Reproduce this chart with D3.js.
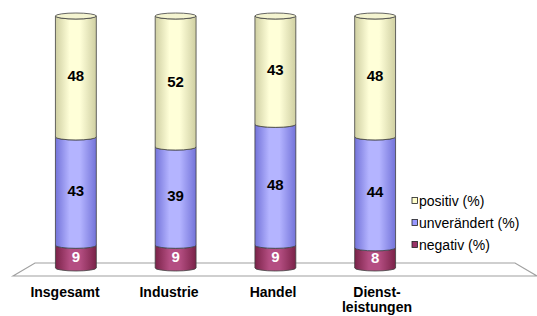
<!DOCTYPE html>
<html>
<head>
<meta charset="utf-8">
<script src="https://cdn.jsdelivr.net/npm/d3@7"></script>
<style>
  body { margin: 0; background: #fff; }
  svg { display: block; font-family: "Liberation Sans", Arial, sans-serif; }
</style>
</head>
<body>
<div id="chart"></div>
<script>
// data
const categories = ['Insgesamt', 'Industrie', 'Handel', 'Dienst-\nleistungen'];
const negativ = [9, 9, 9, 8];
const unveraendert = [43, 39, 48, 44];
const positiv = [48, 52, 43, 48];
const seriesNames = ['positiv (%)', 'unverändert (%)', 'negativ (%)'];

const W = 537, H = 316;
const svg = d3.select('#chart').append('svg').attr('width', W).attr('height', H);

const x = d3.scaleBand().domain(categories).range([26, 425]).paddingInner(0.59).paddingOuter(0.295);
// labels sit on the front edge of the 3D floor, so they spread a bit wider
const xLabel = d3.scalePoint().domain(categories).range([65, 377]);
const y = d3.scaleLinear().domain([0, 100]).range([268, 16]);
const ry = 3;

// colours per series
const styles = {
  negativ: { edge: '#7a2248', mid: '#b44e82', text: '#fff', key: '#993366' },
  unveraendert: { edge: '#7373d9', mid: '#b4b4ff', text: '#000', key: '#9999ff' },
  positiv: { edge: '#cfcfa2', mid: '#ffffd8', text: '#000', key: '#ffffcc' }
};

const defs = svg.append('defs');
Object.entries(styles).forEach(([k, s]) => {
  const g = defs.append('linearGradient').attr('id', 'g_' + k).attr('x1', 0).attr('x2', 1).attr('y1', 0).attr('y2', 0);
  g.append('stop').attr('offset', '0%').attr('stop-color', s.edge);
  g.append('stop').attr('offset', '35%').attr('stop-color', s.mid);
  g.append('stop').attr('offset', '60%').attr('stop-color', s.mid);
  g.append('stop').attr('offset', '100%').attr('stop-color', s.edge);
});

// floor
const fl = x.range()[0] - 13, fr = W;
const floorFront = y(0) + 8, floorBack = y(0) - 5;
svg.append('path')
  .attr('d', `M${fl},${floorFront} L${fl + 22},${floorBack} L${fr - 22},${floorBack} L${fr},${floorFront} Z`)
  .attr('fill', '#fff').attr('stroke', '#a0a0a0').attr('stroke-width', 1.2);

// stacked segments
const stackData = categories.map((c, i) => ({ cat: c, negativ: negativ[i], unveraendert: unveraendert[i], positiv: positiv[i] }));
const keys = ['negativ', 'unveraendert', 'positiv'];
const stack = d3.stack().keys(keys)(stackData);

stack.forEach(layer => {
  const key = layer.key;
  layer.forEach(d => {
    const x0 = x(d.data.cat), x1 = x0 + x.bandwidth(), rx = x.bandwidth() / 2;
    const yb = y(d[0]), yt = y(d[1]);
    svg.append('path')
      .attr('d', `M${x0},${yt} L${x0},${yb} A${rx},${ry} 0 0 0 ${x1},${yb} L${x1},${yt} A${rx},${ry} 0 0 1 ${x0},${yt} Z`)
      .attr('fill', `url(#g_${key})`)
      .attr('stroke', '#404040').attr('stroke-width', 0.8);
    if (key === 'positiv') {
      svg.append('ellipse')
        .attr('cx', x0 + rx).attr('cy', yt).attr('rx', rx).attr('ry', ry)
        .attr('fill', '#f4f4d0').attr('stroke', '#404040').attr('stroke-width', 0.8);
    }
    svg.append('text')
      .attr('x', x0 + rx).attr('y', (yb + yt) / 2 + 5)
      .attr('text-anchor', 'middle')
      .attr('font-size', '15px').attr('font-weight', 'bold')
      .attr('fill', styles[key].text)
      .text(d[1] - d[0]);
  });
});

// category labels
categories.forEach(c => {
  const lines = c.split('\n');
  const t = svg.append('text')
    .attr('x', xLabel(c)).attr('y', 297)
    .attr('text-anchor', 'middle')
    .attr('font-size', '14px').attr('font-weight', 'bold').attr('fill', '#000');
  lines.forEach((l, j) => {
    t.append('tspan').attr('x', xLabel(c)).attr('dy', j === 0 ? 0 : 15).text(l);
  });
});

// legend
const legendKeys = ['positiv', 'unveraendert', 'negativ'];
seriesNames.forEach((name, i) => {
  const ly = 201 + i * 22;
  svg.append('rect')
    .attr('x', 412).attr('y', ly - 3.5).attr('width', 5.5).attr('height', 6)
    .attr('fill', styles[legendKeys[i]].key)
    .attr('stroke', '#202020').attr('stroke-width', 0.8);
  svg.append('text')
    .attr('x', 419).attr('y', ly + 5)
    .attr('font-size', '14px').attr('fill', '#000')
    .text(name);
});
</script>
</body>
</html>
